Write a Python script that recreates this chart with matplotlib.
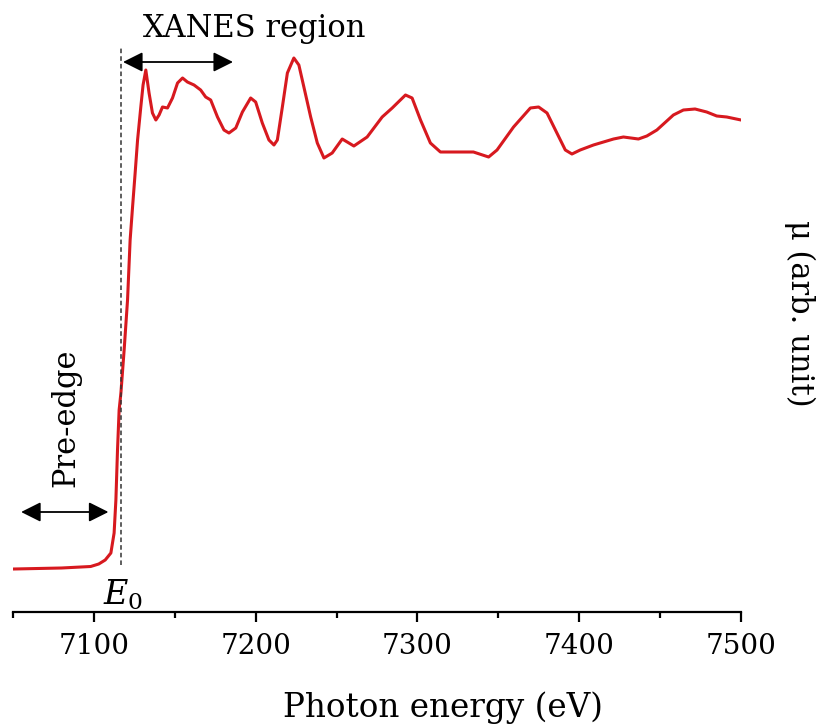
import numpy as np
import matplotlib
matplotlib.use("Agg")
import matplotlib.pyplot as plt

plt.rcParams['font.family'] = ['DejaVu Serif']
plt.rcParams['mathtext.fontset'] = 'dejavuserif'

# photon energy (eV) and absorption mu (arb. unit)
energy = [7050.6, 7080.0, 7098.0, 7103.0, 7107.0, 7110.5, 7112.5, 7113.6, 7114.6,
          7115.6, 7116.7, 7118.7, 7120.8, 7122.4, 7123.9, 7125.5, 7127.0, 7129.0,
          7130.4, 7132.1, 7134.1, 7136.2, 7138.3, 7140.3, 7142.4, 7145.5, 7148.6,
          7151.7, 7154.8, 7157.8, 7161.9, 7166.0, 7169.1, 7172.2, 7176.4, 7180.4,
          7183.5, 7187.7, 7191.8, 7196.9, 7200.0, 7204.1, 7208.2, 7211.3, 7213.4,
          7216.5, 7219.6, 7223.6, 7226.7, 7229.8, 7234.0, 7238.1, 7242.2, 7247.3,
          7253.5, 7260.7, 7268.9, 7278.2, 7284.4, 7292.6, 7296.7, 7301.9, 7308.0,
          7314.2, 7334.6, 7344.0, 7349.2, 7359.4, 7369.8, 7374.9, 7380.1, 7386.2,
          7391.4, 7395.5, 7400.6, 7408.8, 7421.2, 7427.3, 7436.6, 7441.8, 7448.0,
          7458.2, 7464.4, 7471.6, 7478.8, 7485.0, 7491.2, 7500.0]
mu = [-0.002, 0.000, 0.003, 0.008, 0.016, 0.030, 0.070, 0.136, 0.236,
      0.316, 0.350, 0.436, 0.536, 0.656, 0.722, 0.790, 0.856, 0.922,
      0.966, 0.996, 0.950, 0.910, 0.896, 0.906, 0.922, 0.920, 0.940,
      0.970, 0.980, 0.972, 0.966, 0.956, 0.942, 0.936, 0.902, 0.876,
      0.870, 0.880, 0.912, 0.940, 0.932, 0.890, 0.856, 0.846, 0.856,
      0.922, 0.990, 1.020, 1.006, 0.962, 0.902, 0.850, 0.820, 0.830,
      0.858, 0.844, 0.862, 0.902, 0.920, 0.946, 0.940, 0.896, 0.850,
      0.832, 0.832, 0.822, 0.836, 0.882, 0.920, 0.922, 0.910, 0.870,
      0.836, 0.828, 0.836, 0.846, 0.858, 0.862, 0.858, 0.864, 0.876,
      0.906, 0.916, 0.918, 0.912, 0.904, 0.902, 0.896]

E0 = 7117
xanes_span = (7118, 7186)
pre_edge_span = (7055, 7109)

fig = plt.figure(figsize=(8.23, 7.27), dpi=100)
ax = fig.add_axes([13/823, 115/727, 728/823, 612/727])

ax.plot(energy, mu, color="#d7191f", lw=2.2, solid_joinstyle="round")

ax.set_xlim(7050, 7500)
ax.set_ylim(-0.088, 1.136)

# E0 marker
ax.plot([E0, E0], [0.006, 1.045], color="#333333", lw=1.1, ls=(0, (3, 2)))
ax.text(E0 + 1, -0.02, r"$E_{\mathit{0}}$", fontsize=24, ha="center", va="top")

# region arrows
arrow = dict(arrowstyle="<|-|>", color="black", lw=1.3, mutation_scale=30,
             shrinkA=0, shrinkB=0)
ax.annotate("", xy=(xanes_span[0], 1.012), xytext=(xanes_span[1], 1.012), arrowprops=arrow)
ax.text(7199, 1.08, "XANES region", fontsize=22, ha="center", va="center")
ax.annotate("", xy=(pre_edge_span[0], 0.112), xytext=(pre_edge_span[1], 0.112), arrowprops=arrow)
ax.text(7082.5, 0.30, "Pre-edge", fontsize=22, ha="center", va="center", rotation=90)

for s in ["left", "right", "top"]:
    ax.spines[s].set_visible(False)
ax.spines["bottom"].set_linewidth(1.6)
ax.set_yticks([])
ax.set_xticks([7100, 7200, 7300, 7400, 7500])
ax.set_xticks([7050, 7150, 7250, 7350, 7450], minor=True)
ax.tick_params(axis="x", which="major", length=7, width=1.6, labelsize=20, pad=8)
ax.tick_params(axis="x", which="minor", length=4, width=1.6)

fig.text(443/823, 1 - 708/727, "Photon energy (eV)", fontsize=23.5, ha="center", va="center")
fig.text(800/823, 1 - 313/727, "μ (arb. unit)", fontsize=22, ha="center", va="center",
         rotation=-90)

fig.savefig("out.png", dpi=100)
